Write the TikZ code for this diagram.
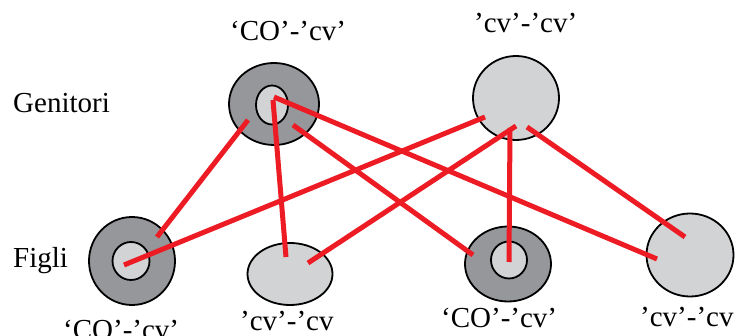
\documentclass[tikz,border=0pt]{standalone}
\usepackage{fontspec}
\setmainfont{Liberation Serif}
\usetikzlibrary{shapes.geometric}
\definecolor{dk}{RGB}{150,151,155}
\definecolor{lt}{RGB}{209,211,212}
\definecolor{rd}{RGB}{237,28,36}
\begin{document}
\begin{tikzpicture}[x=1pt,y=-1pt,
  ell/.style={ellipse,draw=black,line width=1.8pt,inner sep=0pt},
  outerring/.style={ell,fill=dk},
  plain/.style={ell,fill=lt},
  core/.style={ell,fill=lt},
  link/.style={draw=rd,line width=5pt},
  lbl/.style={anchor=base west,inner sep=0pt,font=\fontsize{29}{31}\selectfont}]
\useasboundingbox (0,0) rectangle (736,336);
% parents
\node[outerring,minimum width=90pt,minimum height=82pt] (P1) at (274,104) {};
\node[core,minimum width=32pt,minimum height=39pt] (P1i) at (272,105) {};
\node[plain,minimum width=86pt,minimum height=84pt] (P2) at (516,98) {};
% children
\node[outerring,minimum width=86pt,minimum height=88pt] (C1) at (132,261) {};
\node[core,minimum width=37pt,minimum height=38pt] (C1i) at (131,261) {};
\node[plain,minimum width=85pt,minimum height=62pt] (C2) at (290,274) {};
\node[outerring,minimum width=86pt,minimum height=75pt] (C3) at (508,264) {};
\node[core,minimum width=36pt,minimum height=37pt] (C3i) at (509,260) {};
\node[plain,minimum width=87pt,minimum height=83pt] (C4) at (690,255) {};
% line endpoints
\coordinate (a1) at (248,120); \coordinate (c1a) at (157,237);
\coordinate (a2) at (274,97);  \coordinate (c4a) at (657,259);
\coordinate (a3) at (273,100); \coordinate (c2a) at (286,257);
\coordinate (a4) at (293,125); \coordinate (c3a) at (473,255);
\coordinate (b1) at (485,117); \coordinate (c1b) at (124,265);
\coordinate (b2) at (516,126); \coordinate (c2b) at (308,263);
\coordinate (b3) at (510,128); \coordinate (c3b) at (509,262);
\coordinate (b4) at (527,127); \coordinate (c4b) at (685,237);
\draw[link] (a1) -- (c1a);
\draw[link] (a2) -- (c4a);
\draw[link] (a3) -- (c2a);
\draw[link] (a4) -- (c3a);
\draw[link] (b1) -- (c1b);
\draw[link] (b2) -- (c2b);
\draw[link] (b3) -- (c3b);
\draw[link] (b4) -- (c4b);
% labels
\node[lbl] (lg) at (13,113) {Genitori};
\node[lbl] (lf) at (13,268) {Figli};
\node[lbl] (l1) at (230,40.5) {‘CO’-’cv’};
\node[lbl] (l2) at (474,33) {’cv’-’cv’};
\node[lbl] (l3) at (63,340) {‘CO’-’cv’};
\node[lbl] (l4) at (240,331) {’cv’-’cv};
\node[lbl] (l5) at (441,328) {‘CO’-’cv’};
\node[lbl] (l6) at (640,327) {’cv’-’cv};
\end{tikzpicture}
\end{document}
